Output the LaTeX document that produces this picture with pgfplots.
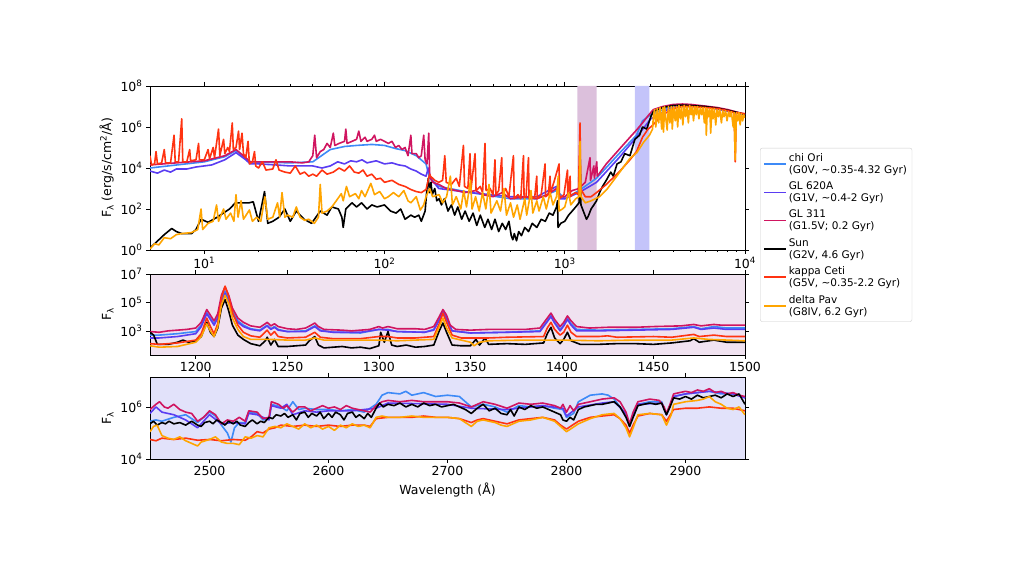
\documentclass[border=0pt]{standalone}
\usepackage{fontspec}
\setmainfont{DejaVu Sans}
\usepackage{pgfplots}
\pgfplotsset{compat=1.18}
\definecolor{chiori}{HTML}{3D8AF7}
\definecolor{glsix}{HTML}{5A3DF2}
\definecolor{glthree}{HTML}{D01560}
\definecolor{kappa}{HTML}{FF3311}
\definecolor{delta}{HTML}{FFA500}
\definecolor{purpleband}{HTML}{DCC0DC}
\definecolor{blueband}{HTML}{C4C4FA}
\definecolor{midbg}{HTML}{F0E2F0}
\definecolor{botbg}{HTML}{E2E2FA}
\pgfplotsset{
  every axis/.append style={
    scale only axis, width=595pt,
    font=\fontsize{12.5}{14}\selectfont,
    tick align=outside, major tick length=4pt, minor tick length=2pt,
    tick style={black, line width=0.6pt},
    axis line style={line width=0.8pt},
    /pgf/number format/assume math mode=true,
    /pgf/number format/1000 sep={},
    yminorticks=false,
  },
  every axis plot/.append style={line width=1.6pt, line join=round, no markers},
}
\begin{document}
\begin{tikzpicture}
\path[use as bounding box] (0pt,0pt) rectangle (1024pt,578pt);
% ---------------- TOP PANEL ----------------
\begin{axis}[at={(150pt,328pt)}, anchor=south west, height=164pt,
  xmode=log, ymode=log, xmin=5, xmax=1e4, ymin=1, ymax=1e8,
  xtick={10,100,1000,10000},
  xticklabels={10\textsuperscript{1},10\textsuperscript{2},10\textsuperscript{3},10\textsuperscript{4}},
  ytick={1,100,1e4,1e6,1e8},
  yticklabels={10\textsuperscript{0},10\textsuperscript{2},10\textsuperscript{4},10\textsuperscript{6},10\textsuperscript{8}},
  ylabel={F\textsubscript{λ} (erg/s/cm\textsuperscript{2}/Å)},
  legend style={at={(1.0252,0.622)}, anchor=north west, draw=black!20, rounded corners=2pt,
    font=\fontsize{10.5}{12}\selectfont, cells={anchor=west, align=left}, row sep=3pt, inner sep=3pt},
  legend image code/.code={\draw[#1] (0pt,0pt) -- (22pt,0pt);},
]
\addplot[draw=none, fill=purpleband, forget plot] coordinates {(1175,1) (1175,1e8) (1500,1e8) (1500,1) (1175,1)};
\addplot[draw=none, fill=blueband, forget plot] coordinates {(2450,1) (2450,1e8) (2950,1e8) (2950,1) (2450,1)};
% chi Ori
\addplot[chiori] coordinates {(5,1e4) (10,2e4) (13,3.55e4) (15,7.08e4) (17,2.82e4) (18,2e4) (30,1.78e4) (40,2e4) (50,7.94e4) (60,1.12e5) (70,1.26e5) (85,1.41e5) (100,1.26e5) (115,8.91e4) (130,7.08e4) (150,3.98e4) (170,1.58e4) (178,3.16e3) (200,1.26e3) (300,631) (500,316) (700,316) (900,794) (1000,316) (1200,794) (1500,3.16e3) (2000,5.01e4) (2500,3.98e5) (2700,2e6) (3000,3.98e6) (4000,1.12e7) (6000,1e7) (10000,3.98e6)};
\addlegendentry{chi Ori\\(G0V, \textasciitilde0.35-4.32 Gyr)}
% GL 620A
\addplot[glsix] coordinates {(5,7.08e3) (5.5,5.62e3) (6,7.94e3) (6.5,6.31e3) (7,8.91e3) (8,8.91e3) (9,1.12e4) (10,1.26e4) (11,1.41e4) (13,2.51e4) (15,5.62e4) (17,2.51e4) (18,1.58e4) (20,1.58e4) (25,1.41e4) (30,1.26e4) (40,1.26e4) (45,1e4) (50,1.26e4) (55,2e4) (60,1.58e4) (65,2.24e4) (70,2e4) (75,2.51e4) (80,1.78e4) (90,2.24e4) (100,1.58e4) (110,1.78e4) (120,1.41e4) (130,1.26e4) (140,8.91e3) (150,7.08e3) (160,5.01e3) (170,3.98e3) (175,1e4) (180,3.16e3) (200,1e3) (300,631) (500,398) (700,398) (900,1.26e3) (940,316) (1000,316) (1200,631) (1500,2e3) (2000,3.16e4) (2500,3.16e5) (3000,2.51e6) (4000,1e7) (6000,1e7) (10000,3.98e6)};
\addlegendentry{GL 620A\\(G1V, \textasciitilde0.4-2 Gyr)}
% GL 311
\addplot[glthree] coordinates {(5,1.41e4) (7,1.78e4) (10,2.24e4) (13,3.98e4) (15,7.94e4) (17,3.16e4) (18,2e4) (20,2e4) (25,2e4) (30,2e4) (35,1.78e4) (38,2e4) (40,3.98e4) (41,3.98e5) (42,3.16e4) (44,6.31e4) (46,7.94e4) (48,1.58e5) (50,1e5) (52,5.01e5) (53,1.26e5) (56,1.58e5) (60,2e5) (61,7.94e5) (62,1.58e5) (66,2e5) (70,2.51e5) (72,6.31e5) (74,2e5) (78,3.16e5) (80,2e5) (85,2.51e5) (88,3.98e5) (90,2e5) (95,2.51e5) (100,2e5) (105,1.58e5) (110,2e5) (115,1e5) (120,1.26e5) (125,7.94e4) (130,1e5) (135,3.98e4) (140,3.98e5) (142,5.01e4) (150,5.01e4) (155,3.16e4) (160,3.98e4) (165,3.98e5) (168,2.51e4) (172,1.58e4) (176,5.01e5) (178,3.98e3) (185,2e3) (200,1.58e3) (220,1e3) (250,794) (280,631) (320,794) (350,501) (400,398) (450,631) (500,316) (600,398) (700,316) (800,501) (900,1e3) (940,398) (1000,398) (1100,794) (1200,1e3) (1300,2e3) (1380,3.16e4) (1390,2.51e3) (1450,1.26e4) (1460,3.16e3) (1505,2e4) (1515,3.98e3) (1700,1.58e4) (2000,7.94e4) (2300,3.16e5) (2500,7.08e5) (2700,1.58e6) (2900,3.55e6) (3100,7.08e6) (3500,1e7) (4000,1.26e7) (4500,1.32e7) (5000,1.26e7) (6000,1.05e7) (7000,8.91e6) (8000,7.08e6) (10000,4.17e6)};
\addlegendentry{GL 311\\(G1.5V; 0.2 Gyr)}
% Sun
\addplot[black] coordinates {(5,1.26) (5.3,2.0) (6.0,5.62) (6.6,11.2) (7.0,7.94) (7.5,6.31) (8.5,6.31) (9.0,10) (9.6,31.6) (10.5,22.4) (11.8,39.8) (13.8,100) (14.9,200) (17.7,200) (18.7,224) (20,25.1) (21.6,708) (22.5,20) (24,25.1) (26,39.8) (28,100) (30,25.1) (32.4,79.4) (35.8,31.6) (39.4,20) (44,79.4) (48,50.1) (51,126) (55.5,100) (58,39.8) (59,12.6) (61,100) (66,200) (70,126) (74.6,200) (80,100) (85,158) (91,126) (100,158) (108,79.4) (116,63.1) (123,100) (130,31.6) (140,50.1) (147,39.8) (155,50.1) (160,25.1) (168,79.4) (172,1e3) (175,3.16e3) (178,631) (181,2e3) (184,501) (190,1e3) (195,251) (201,316) (207,158) (215,316) (225,79.4) (235,158) (245,50.1) (255,126) (268,31.6) (280,79.4) (295,25.1) (310,63.1) (325,15.8) (340,50.1) (360,12.6) (375,31.6) (393,10) (410,31.6) (430,7.94) (450,20) (470,10) (490,25.1) (505,5.01) (515,3.16) (525,6.31) (540,2.82) (555,7.94) (575,5.01) (600,12.6) (630,7.94) (660,20) (700,12.6) (740,31.6) (780,25.1) (820,63.1) (860,50.1) (900,126) (912,251) (918,12.6) (950,20) (1000,25.1) (1050,50.1) (1100,79.4) (1150,126) (1200,200) (1216,6.31e4) (1230,158) (1280,63.1) (1320,31.6) (1350,44.7) (1400,100) (1450,158) (1500,251) (1560,631) (1620,1.26e3) (1700,2.51e3) (1800,6.31e3) (1860,3.98e3) (1950,1.58e4) (2050,2e4) (2150,5.01e4) (2300,3.98e4) (2450,2.51e5) (2600,3.98e5) (2700,1e6) (2850,7.94e5) (3000,3.16e6) (3100,5.62e6) (3500,8.91e6) (4000,1.12e7) (4500,1.17e7) (5000,1.12e7) (6000,1e7) (7000,8.32e6) (8000,6.61e6) (10000,4.17e6)};
\addlegendentry{Sun\\(G2V, 4.6 Gyr)}
% kappa Ceti
\addplot[kappa] coordinates {(5.0,3.98e4) (5.1,1.41e4) (5.3,1.58e4) (5.4,6.31e4) (5.5,1.58e4) (5.8,1.78e4) (6.0,7.94e4) (6.1,1.78e4) (6.5,1.78e4) (6.8,3.98e5) (6.9,2e4) (7.2,2e4) (7.5,2.51e6) (7.6,2e4) (8.0,2e4) (8.3,7.94e4) (8.4,2.24e4) (9.0,2.51e4) (9.3,1.58e5) (9.4,2.51e4) (10.0,2.51e4) (10.5,7.94e4) (10.7,2.82e4) (11.2,1e5) (11.4,3.16e4) (12.0,7.94e5) (12.2,3.98e4) (12.8,2.51e5) (13.0,5.01e4) (13.5,1e5) (13.8,6.31e4) (14.3,1.58e6) (14.5,7.94e4) (15.0,1e5) (15.5,6.31e5) (15.7,7.94e4) (16.2,5.01e5) (16.5,5.01e4) (17.0,3.16e4) (17.5,2e5) (17.8,1.58e4) (18.5,2e4) (19.0,6.31e4) (19.3,1.26e4) (20,1e4) (21,2e4) (22,7.94e3) (24,8.91e3) (25,2.51e4) (26,7.94e3) (28,6.31e3) (30,5.62e3) (32,1.26e4) (34,5.01e3) (36,6.31e3) (38,3.98e3) (40,5.01e3) (42,3.98e3) (45,7.94e3) (48,5.01e3) (52,6.31e3) (56,1e4) (60,7.08e3) (64,1.26e4) (68,6.31e3) (72,5.62e3) (76,7.94e3) (80,3.98e3) (85,5.01e3) (90,2.82e3) (95,3.16e3) (100,2e3) (110,2.51e3) (120,1.58e3) (130,1.26e3) (140,891) (150,708) (160,631) (170,891) (178,5.01e3) (180,3.98e3) (190,2.51e3) (200,2e3) (210,2.51e3) (216,3.98e4) (220,2e3) (235,1.58e3) (250,3.16e3) (260,1.26e3) (274,1.26e5) (278,1.26e3) (290,1e3) (298,5.01e4) (302,1e3) (318,5.01e4) (322,794) (340,1.26e3) (350,631) (361,1.58e5) (366,794) (385,1e3) (400,501) (410,2.51e4) (415,501) (430,794) (447,3.16e4) (452,501) (470,1e3) (490,398) (519,3.98e4) (524,316) (550,501) (570,316) (590,3.98e4) (595,316) (610,398) (629,3.16e4) (634,316) (660,398) (680,316) (699,3.98e3) (704,316) (740,501) (778,1.58e4) (783,398) (810,501) (829,3.98e3) (834,631) (870,2e3) (910,7.94e3) (930,1.58e4) (935,316) (960,398) (990,501) (1035,7.94e3) (1040,398) (1071,3.98e3) (1075,398) (1100,501) (1150,631) (1190,501) (1216,1.58e6) (1225,1e3) (1240,794) (1300,398) (1400,398) (1500,631) (1700,1.58e3) (2000,6.31e3) (2300,2.51e4) (2500,6.31e4) (2700,3.16e5) (2900,7.94e5) (3000,1e6) (3500,3.98e6) (4000,7.94e6) (4500,1e7) (5000,1e7) (6000,8.91e6) (7000,7.94e6) (8000,6.31e6) (8700,5.01e6) (8830,2e4) (8950,5.01e6) (10000,4.47e6)};
\addlegendentry{kappa Ceti\\(G5V, \textasciitilde0.35-2.2 Gyr)}
% delta Pav
\addplot[delta] coordinates {(5,1.12) (5.3,2) (5.6,1.78) (6.0,3.98) (6.5,3.55) (7,5.62) (7.5,6.31) (8.5,7.08) (9.2,10) (9.6,100) (9.8,10) (10.5,20) (11.2,25.1) (11.7,158) (12.0,25.1) (12.8,100) (13.2,31.6) (14,63.1) (14.6,25.1) (15,501) (15.4,39.8) (16,251) (16.5,31.6) (17.8,89.1) (18.5,25.1) (19.5,39.8) (20.6,25.1) (21.7,398) (22.5,31.6) (24,39.8) (25.5,200) (26.2,39.8) (27,631) (28,39.8) (29,50.1) (31,39.8) (32.4,126) (34,39.8) (36,28.2) (38,31.6) (40.8,20) (43,39.8) (44,1.58e3) (45,63.1) (48,79.4) (51,126) (54,251) (57.6,562) (59,251) (61.5,1.26e3) (64,398) (69,562) (72,316) (74.6,794) (78,398) (84,1.78e3) (88,501) (94,708) (100,316) (105,398) (112,631) (120,398) (128,794) (135,251) (140,200) (150,398) (158,89.1) (165,158) (170,398) (178,1e3) (185,398) (201,501) (210,200) (221,398) (232,3.98e3) (238,158) (250,398) (265,100) (275,794) (285,126) (300,2.51e3) (306,100) (320,398) (335,79.4) (350,631) (365,100) (380,1.58e3) (390,63.1) (420,251) (440,79.4) (460,1e3) (475,50.1) (500,200) (520,39.8) (545,158) (565,31.6) (600,316) (615,50.1) (650,794) (665,63.1) (700,251) (720,79.4) (760,398) (790,100) (830,631) (860,158) (900,398) (920,3.98e3) (930,79.4) (970,100) (1000,126) (1050,631) (1080,158) (1150,316) (1200,398) (1216,2e5) (1230,398) (1300,200) (1400,251) (1560,398) (1710,891) (2020,6.31e3) (2290,2.82e4) (2510,5.62e4) (2735,1.78e5) (2950,3.98e5) (3070,7.94e5) (3100,3.16e6) (3150,7.08e6) (3200,1e6) (3260,7.94e6) (3320,1.58e6) (3380,8.91e6) (3450,7.94e5) (3500,8.91e6) (3530,5.62e5) (3580,1e7) (3650,2e6) (3700,7.08e5) (3760,1e7) (3830,1.58e6) (3900,1e7) (3950,7.94e5) (4020,1e7) (4100,2e6) (4170,1e7) (4230,1e6) (4300,1.12e7) (4380,2.51e6) (4450,1e7) (4520,1.26e6) (4600,1.12e7) (4680,3.16e6) (4760,1e7) (4850,1.58e6) (4930,1.12e7) (5020,3.98e6) (5100,1e7) (5180,2e6) (5270,1e7) (5360,3.98e6) (5450,1e7) (5550,2.51e6) (5650,8.91e6) (5750,3.98e6) (5850,8.91e6) (5950,1.58e6) (6050,8.91e6) (6100,3.98e5) (6180,7.94e6) (6280,3.16e6) (6380,7.94e6) (6450,5.01e5) (6550,7.94e6) (6650,2.51e6) (6760,7.94e6) (6880,1.26e6) (7000,7.08e6) (7120,3.16e6) (7240,7.08e6) (7400,1.58e6) (7520,6.31e6) (7650,3.16e6) (7800,6.31e6) (7950,2e6) (8100,5.62e6) (8250,3.16e6) (8400,5.62e6) (8600,1e6) (8700,5.01e6) (8830,2.51e4) (8950,5.01e6) (9100,2e6) (9250,5.01e6) (9400,1.26e6) (9550,4.47e6) (9700,2e6) (9850,3.98e6) (10000,2.82e6)};
\addlegendentry{delta Pav\\(G8IV, 6.2 Gyr)}
\end{axis}
% ---------------- MIDDLE PANEL ----------------
\begin{axis}[at={(150pt,223pt)}, anchor=south west, height=81pt,
  ymode=log, xmin=1175, xmax=1500, ymin=20, ymax=1e7,
  axis background/.style={fill=midbg},
  xtick={1200,1250,1300,1350,1400,1450,1500}, xtick pos=both, xticklabel pos=lower,
  ytick={1e3,1e5,1e7},
  yticklabels={10\textsuperscript{3},10\textsuperscript{5},10\textsuperscript{7}},
  ylabel={F\textsubscript{λ}},
]
\addplot[chiori] coordinates {(1175,501) (1180,501) (1190,631) (1200,891) (1203,2.51e3) (1206,2e4) (1208,7.94e3) (1210,3.16e3) (1212,1e4) (1214,1.58e5) (1216,6.31e5) (1218,1.58e5) (1220,2.51e4) (1223,5.01e3) (1226,2.51e3) (1230,1.41e3) (1235,1.12e3) (1239,2.51e3) (1241,1.41e3) (1243,2e3) (1245,1.26e3) (1250,891) (1260,1e3) (1265,2.24e3) (1268,1.12e3) (1275,794) (1290,708) (1300,1.26e3) (1305,1.26e3) (1310,891) (1325,794) (1330,1.26e3) (1333,6.31e3) (1335,2.24e4) (1337,7.94e3) (1340,1e3) (1350,708) (1370,794) (1388,1e3) (1392,5.01e3) (1394,1.26e4) (1396,3.98e3) (1399,1.26e3) (1401,2.51e3) (1403,7.94e3) (1405,3.16e3) (1408,1.26e3) (1420,1.12e3) (1440,1.26e3) (1460,1.41e3) (1472,2e3) (1476,1.41e3) (1483,2e3) (1490,1.58e3) (1500,1.58e3)};
\addplot[glsix] coordinates {(1175,316) (1180,316) (1190,398) (1200,631) (1203,2e3) (1206,1.58e4) (1208,6.31e3) (1210,2.51e3) (1212,7.94e3) (1214,1e5) (1216,4.47e5) (1218,1e5) (1220,1.58e4) (1223,3.98e3) (1226,2e3) (1230,1.26e3) (1235,1e3) (1239,2.24e3) (1241,1.26e3) (1243,1.78e3) (1245,1.12e3) (1250,891) (1260,891) (1265,2e3) (1268,1e3) (1275,794) (1290,794) (1300,1.26e3) (1305,1.12e3) (1310,891) (1325,794) (1330,1.12e3) (1333,5.62e3) (1335,2e4) (1337,7.08e3) (1340,1e3) (1350,708) (1370,794) (1388,891) (1392,4.47e3) (1394,1e4) (1396,3.55e3) (1399,1e3) (1401,2.24e3) (1403,6.31e3) (1405,2.51e3) (1408,1e3) (1420,1e3) (1440,1.12e3) (1460,1.26e3) (1472,1.78e3) (1476,1.26e3) (1483,1.58e3) (1490,1.26e3) (1500,1.26e3)};
\addplot[glthree] coordinates {(1175,891) (1180,794) (1185,1e3) (1190,1.12e3) (1195,1.26e3) (1200,1.58e3) (1203,3.98e3) (1206,3.16e4) (1208,1.26e4) (1210,5.01e3) (1212,1.58e4) (1214,3.16e5) (1216,1.26e6) (1218,3.16e5) (1220,3.98e4) (1223,7.94e3) (1226,3.98e3) (1230,2.24e3) (1235,1.78e3) (1238,3.16e3) (1239,3.98e3) (1241,2.24e3) (1243,3.16e3) (1245,2e3) (1250,1.41e3) (1255,1.26e3) (1260,1.58e3) (1263,2.51e3) (1265,3.55e3) (1267,2e3) (1270,1.26e3) (1280,1.12e3) (1285,1e3) (1290,1.12e3) (1295,1.26e3) (1300,2e3) (1302,1.58e3) (1305,2e3) (1310,1.41e3) (1320,1.41e3) (1325,1.26e3) (1330,2e3) (1333,1e4) (1335,3.16e4) (1337,1.26e4) (1339,2.51e3) (1342,1.26e3) (1350,1.12e3) (1360,1.26e3) (1370,1.26e3) (1380,1.26e3) (1388,1.58e3) (1392,7.94e3) (1394,1.78e4) (1396,6.31e3) (1399,2e3) (1401,3.98e3) (1403,1.12e4) (1405,5.01e3) (1408,2e3) (1415,1.58e3) (1425,1.78e3) (1440,1.78e3) (1450,2e3) (1465,2.24e3) (1472,2.82e3) (1476,2.24e3) (1483,2.82e3) (1487,2.51e3) (1500,2.51e3)};
\addplot[black] coordinates {(1175,794) (1177,501) (1179,112) (1185,112) (1190,158) (1193,224) (1196,158) (1200,200) (1203,398) (1206,3.98e3) (1208,794) (1210,398) (1212,1.58e3) (1214,3.98e4) (1216,1.58e5) (1218,2.51e4) (1220,2.51e3) (1223,501) (1226,251) (1230,126) (1235,89.1) (1238,200) (1239,355) (1241,100) (1243,251) (1245,79.4) (1250,79.4) (1255,89.1) (1260,100) (1262,200) (1265,398) (1267,100) (1270,63.1) (1275,70.8) (1280,79.4) (1285,63.1) (1290,70.8) (1295,56.2) (1300,89.1) (1301,794) (1303,158) (1305,891) (1307,100) (1310,79.4) (1315,100) (1320,70.8) (1325,79.4) (1330,100) (1333,1e3) (1335,3.55e3) (1337,794) (1340,100) (1345,89.1) (1350,89.1) (1353,251) (1355,100) (1358,316) (1360,112) (1370,126) (1380,112) (1390,141) (1392,631) (1394,1.78e3) (1396,316) (1399,126) (1401,251) (1403,794) (1405,200) (1410,112) (1420,112) (1430,126) (1440,126) (1450,112) (1460,141) (1470,200) (1472,282) (1475,158) (1483,224) (1490,158) (1500,158)};
\addplot[kappa] coordinates {(1175,126) (1180,112) (1190,141) (1200,224) (1203,631) (1206,7.94e3) (1208,2e3) (1210,631) (1212,3.16e3) (1214,2e5) (1216,1.41e6) (1218,2.51e5) (1220,2e4) (1223,2.51e3) (1226,794) (1230,447) (1235,355) (1239,1.12e3) (1241,501) (1243,891) (1245,398) (1250,316) (1260,355) (1265,794) (1268,355) (1275,282) (1290,282) (1300,398) (1305,398) (1310,316) (1320,316) (1330,398) (1333,3.16e3) (1335,1.78e4) (1337,3.98e3) (1340,501) (1345,316) (1360,316) (1370,355) (1390,398) (1392,1.58e3) (1394,3.98e3) (1396,1.26e3) (1399,501) (1401,794) (1403,2.51e3) (1405,794) (1408,398) (1420,398) (1425,447) (1430,355) (1450,398) (1460,355) (1472,562) (1475,398) (1483,501) (1490,398) (1500,398)};
\addplot[delta] coordinates {(1175,89.1) (1180,70.8) (1190,79.4) (1200,158) (1203,398) (1206,3.16e3) (1208,1e3) (1210,398) (1212,2e3) (1214,6.31e4) (1216,3.16e5) (1218,7.94e4) (1220,7.94e3) (1223,1.26e3) (1226,398) (1230,251) (1240,251) (1250,224) (1260,224) (1265,316) (1270,224) (1300,224) (1310,200) (1330,251) (1333,2e3) (1335,7.94e3) (1337,1.58e3) (1340,316) (1345,224) (1350,158) (1352,89.1) (1355,158) (1360,200) (1380,224) (1400,224) (1420,200) (1440,224) (1460,224) (1472,316) (1480,251) (1500,200)};
\end{axis}
% ---------------- BOTTOM PANEL ----------------
\begin{axis}[at={(150pt,119pt)}, anchor=south west, height=82pt,
  ymode=log, xmin=2450, xmax=2950, ymin=1e4, ymax=1.41e7,
  axis background/.style={fill=botbg},
  xtick={2500,2600,2700,2800,2900}, xtick pos=both, xticklabel pos=lower,
  ytick={1e4,1e6},
  yticklabels={10\textsuperscript{4},10\textsuperscript{6}},
  ylabel={F\textsubscript{λ}},
  xlabel={Wavelength (Å)},
]
\addplot[chiori] coordinates {(2450,2.82e5) (2455,3.16e5) (2460,2.82e5) (2470,3.98e5) (2480,5.01e5) (2490,2.51e5) (2500,6.31e5) (2505,4.47e5) (2510,2e5) (2515,1e5) (2518,4.47e4) (2521,1.58e5) (2525,2.51e5) (2530,2.51e5) (2533,6.31e5) (2540,5.62e5) (2545,3.16e5) (2550,3.55e5) (2552,1.26e6) (2560,1e6) (2565,7.08e5) (2570,1.58e6) (2575,7.94e5) (2580,8.91e5) (2590,7.94e5) (2600,7.94e5) (2610,7.08e5) (2620,7.94e5) (2630,6.31e5) (2640,1.26e6) (2645,2.82e6) (2650,3.55e6) (2660,3.16e6) (2665,3.98e6) (2670,2.82e6) (2680,3.55e6) (2690,2.51e6) (2700,2.82e6) (2710,2.51e6) (2720,1e6) (2730,1.26e6) (2740,1e6) (2750,6.31e5) (2760,1.12e6) (2770,1e6) (2780,1.12e6) (2790,8.91e5) (2797,7.94e5) (2800,3.98e5) (2806,5.62e5) (2810,1.58e6) (2820,2.82e6) (2830,3.16e6) (2835,2.82e6) (2840,2e6) (2850,5.01e5) (2853,1.78e5) (2856,5.01e5) (2860,1.26e6) (2870,1.58e6) (2880,1.58e6) (2884,5.01e5) (2890,2.51e6) (2900,3.16e6) (2910,3.55e6) (2920,3.98e6) (2930,3.16e6) (2940,3.16e6) (2950,2.24e6)};
\addplot[glsix] coordinates {(2450,5.62e5) (2455,1e6) (2460,6.31e5) (2470,5.01e5) (2480,3.16e5) (2490,1.58e5) (2500,5.01e5) (2510,2.24e5) (2520,2.51e5) (2530,2.24e5) (2533,5.62e5) (2540,5.01e5) (2550,3.16e5) (2552,1.12e6) (2560,8.91e5) (2565,1.26e6) (2570,5.01e5) (2580,7.08e5) (2590,6.31e5) (2600,7.08e5) (2620,7.08e5) (2640,8.91e5) (2650,1.41e6) (2700,1.26e6) (2720,8.91e5) (2750,7.94e5) (2780,1.12e6) (2797,8.91e5) (2800,4.47e5) (2810,1e6) (2830,1.41e6) (2840,1.58e6) (2850,5.62e5) (2853,2e5) (2860,1.26e6) (2880,1.41e6) (2884,5.01e5) (2890,2.51e6) (2900,3.16e6) (2920,3.98e6) (2940,3.16e6) (2950,2.24e6)};
\addplot[glthree] coordinates {(2450,7.94e5) (2455,1.26e6) (2458,1.58e6) (2462,1e6) (2465,8.91e5) (2470,1.26e6) (2475,7.94e5) (2480,6.31e5) (2485,5.62e5) (2490,2.82e5) (2495,3.98e5) (2500,7.08e5) (2505,5.01e5) (2510,2.24e5) (2515,3.16e5) (2520,2.82e5) (2525,3.98e5) (2530,2.82e5) (2533,7.08e5) (2540,6.31e5) (2545,3.55e5) (2550,3.98e5) (2552,1.58e6) (2558,1.26e6) (2562,8.91e5) (2565,1.12e6) (2570,6.31e5) (2575,1e6) (2580,1e6) (2585,7.08e5) (2590,8.91e5) (2595,1.12e6) (2600,8.91e5) (2605,1e6) (2610,7.94e5) (2615,1.12e6) (2620,8.91e5) (2625,7.94e5) (2630,7.08e5) (2635,6.31e5) (2640,1.12e6) (2645,1.58e6) (2650,1.78e6) (2660,1.58e6) (2670,1.78e6) (2680,1.58e6) (2690,1.58e6) (2700,1.58e6) (2710,1.41e6) (2720,1e6) (2725,1.26e6) (2730,1.58e6) (2740,1.26e6) (2750,8.91e5) (2755,1.12e6) (2760,1.41e6) (2770,1.26e6) (2780,1.41e6) (2790,1.12e6) (2795,8.91e5) (2797,1.26e6) (2800,6.31e5) (2803,1.12e6) (2806,7.08e5) (2810,1.26e6) (2820,1.58e6) (2830,2e6) (2840,2.24e6) (2845,1.58e6) (2850,6.31e5) (2853,2.24e5) (2856,6.31e5) (2860,1.58e6) (2870,2e6) (2878,1.78e6) (2882,1e6) (2884,5.62e5) (2887,1.26e6) (2890,3.16e6) (2900,3.98e6) (2905,3.55e6) (2910,4.47e6) (2915,3.98e6) (2920,5.01e6) (2925,3.55e6) (2930,3.98e6) (2935,3.16e6) (2940,3.55e6) (2945,2.82e6) (2950,2.51e6)};
\addplot[black] coordinates {(2450,2.24e5) (2453,2.82e5) (2456,2e5) (2460,2.51e5) (2463,2.24e5) (2466,2.82e5) (2470,2.24e5) (2475,2.51e5) (2480,2e5) (2485,2.82e5) (2490,2e5) (2493,1.78e5) (2496,2.51e5) (2500,2.82e5) (2503,2.24e5) (2506,3.16e5) (2510,2.51e5) (2513,2e5) (2516,2.82e5) (2520,2.24e5) (2523,2.82e5) (2526,2e5) (2530,1.78e5) (2533,2.51e5) (2536,3.16e5) (2540,2.24e5) (2543,2.82e5) (2546,2.51e5) (2550,3.98e5) (2553,3.55e5) (2556,5.01e5) (2560,4.47e5) (2563,5.62e5) (2566,3.98e5) (2570,5.01e5) (2573,3.16e5) (2576,5.62e5) (2580,6.31e5) (2583,3.98e5) (2586,5.62e5) (2590,4.47e5) (2593,6.31e5) (2596,3.55e5) (2600,5.62e5) (2603,3.98e5) (2606,6.31e5) (2610,5.01e5) (2613,3.16e5) (2616,5.62e5) (2620,6.31e5) (2623,3.98e5) (2626,5.01e5) (2630,3.55e5) (2633,5.62e5) (2636,3.98e5) (2640,8.91e5) (2643,1.41e6) (2646,1e6) (2650,1.26e6) (2655,1.12e6) (2660,1.41e6) (2665,1e6) (2670,1.26e6) (2675,1e6) (2680,1.41e6) (2685,1.12e6) (2690,1.26e6) (2695,1e6) (2700,1.12e6) (2705,1.26e6) (2710,1e6) (2715,7.94e5) (2720,5.62e5) (2725,8.91e5) (2730,1.26e6) (2735,7.08e5) (2740,8.91e5) (2745,5.62e5) (2750,5.01e5) (2753,7.94e5) (2756,4.47e5) (2760,1e6) (2765,7.94e5) (2770,1.12e6) (2775,8.91e5) (2780,1e6) (2785,7.94e5) (2790,6.31e5) (2795,5.01e5) (2797,3.16e5) (2800,2.82e5) (2803,3.98e5) (2806,3.16e5) (2810,7.94e5) (2815,1e6) (2820,1.12e6) (2825,1.26e6) (2830,1.26e6) (2835,1.41e6) (2840,1.58e6) (2845,1e6) (2850,3.98e5) (2853,1.78e5) (2856,3.98e5) (2860,1.12e6) (2865,1.26e6) (2870,1.41e6) (2875,1.26e6) (2880,1.41e6) (2882,7.94e5) (2884,5.01e5) (2887,1e6) (2890,2.24e6) (2895,2e6) (2900,2.51e6) (2905,2e6) (2910,2.82e6) (2915,2.24e6) (2920,2.51e6) (2925,2.82e6) (2930,2.24e6) (2935,3.16e6) (2940,2.51e6) (2945,3.16e6) (2950,1.26e6)};
\addplot[kappa] coordinates {(2450,5.62e4) (2455,5.01e4) (2460,6.31e4) (2470,5.62e4) (2480,6.31e4) (2490,5.25e4) (2500,5.62e4) (2510,5.01e4) (2520,5.62e4) (2530,5.25e4) (2535,7.08e4) (2540,1.12e5) (2545,1e5) (2550,1.41e5) (2555,1.58e5) (2560,2e5) (2570,1.78e5) (2580,2e5) (2590,1.78e5) (2600,2e5) (2610,1.78e5) (2620,2e5) (2630,2e5) (2635,1.78e5) (2640,3.55e5) (2650,3.98e5) (2660,3.98e5) (2670,3.98e5) (2680,4.47e5) (2690,3.98e5) (2700,3.98e5) (2710,3.55e5) (2720,2.51e5) (2725,3.16e5) (2730,3.55e5) (2740,2.82e5) (2750,2.24e5) (2760,3.16e5) (2770,3.55e5) (2780,3.98e5) (2790,3.16e5) (2795,2e5) (2800,1.41e5) (2805,2e5) (2810,2.82e5) (2820,3.98e5) (2830,4.47e5) (2840,5.01e5) (2845,3.55e5) (2850,2e5) (2853,1e5) (2856,2e5) (2860,4.47e5) (2870,5.62e5) (2880,5.01e5) (2884,2.82e5) (2888,5.62e5) (2890,7.94e5) (2900,8.91e5) (2910,8.91e5) (2920,1e6) (2930,8.91e5) (2940,8.91e5) (2950,7.08e5)};
\addplot[delta] coordinates {(2450,1.12e5) (2453,1.78e5) (2456,2e5) (2460,7.94e4) (2465,6.31e4) (2470,5.62e4) (2475,7.08e4) (2480,5.01e4) (2485,3.98e4) (2490,3.16e4) (2493,4.47e4) (2500,5.62e4) (2505,7.08e4) (2510,4.47e4) (2515,3.98e4) (2520,3.98e4) (2525,3.55e4) (2530,7.08e4) (2535,6.31e4) (2540,7.94e4) (2545,7.08e4) (2550,1.58e5) (2555,1.78e5) (2560,1.58e5) (2565,2.24e5) (2570,1.78e5) (2575,1.41e5) (2580,2.24e5) (2585,1.58e5) (2590,2e5) (2595,1.41e5) (2600,1.78e5) (2605,1.26e5) (2610,2e5) (2615,1.58e5) (2620,2.24e5) (2625,1.78e5) (2630,2e5) (2635,1.58e5) (2640,3.98e5) (2645,4.47e5) (2650,3.98e5) (2660,3.98e5) (2670,4.47e5) (2680,3.98e5) (2690,3.98e5) (2700,3.98e5) (2710,3.55e5) (2720,1.78e5) (2725,2.82e5) (2730,3.16e5) (2740,2.51e5) (2745,2e5) (2750,1.78e5) (2760,2.82e5) (2770,3.16e5) (2780,3.98e5) (2790,2.82e5) (2795,1.78e5) (2800,1.12e5) (2805,1.58e5) (2810,2.24e5) (2820,3.55e5) (2830,5.01e5) (2840,5.62e5) (2845,3.55e5) (2850,1.58e5) (2853,7.08e4) (2856,1.58e5) (2860,5.01e5) (2870,5.62e5) (2880,5.01e5) (2884,2e5) (2888,5.01e5) (2890,1.26e6) (2895,1.41e6) (2900,1.58e6) (2910,1.78e6) (2915,2e6) (2920,2.51e6) (2925,1.58e6) (2930,1.26e6) (2935,8.91e5) (2940,7.94e5) (2945,1e6) (2950,5.01e5)};
\end{axis}
\end{tikzpicture}
\end{document}
